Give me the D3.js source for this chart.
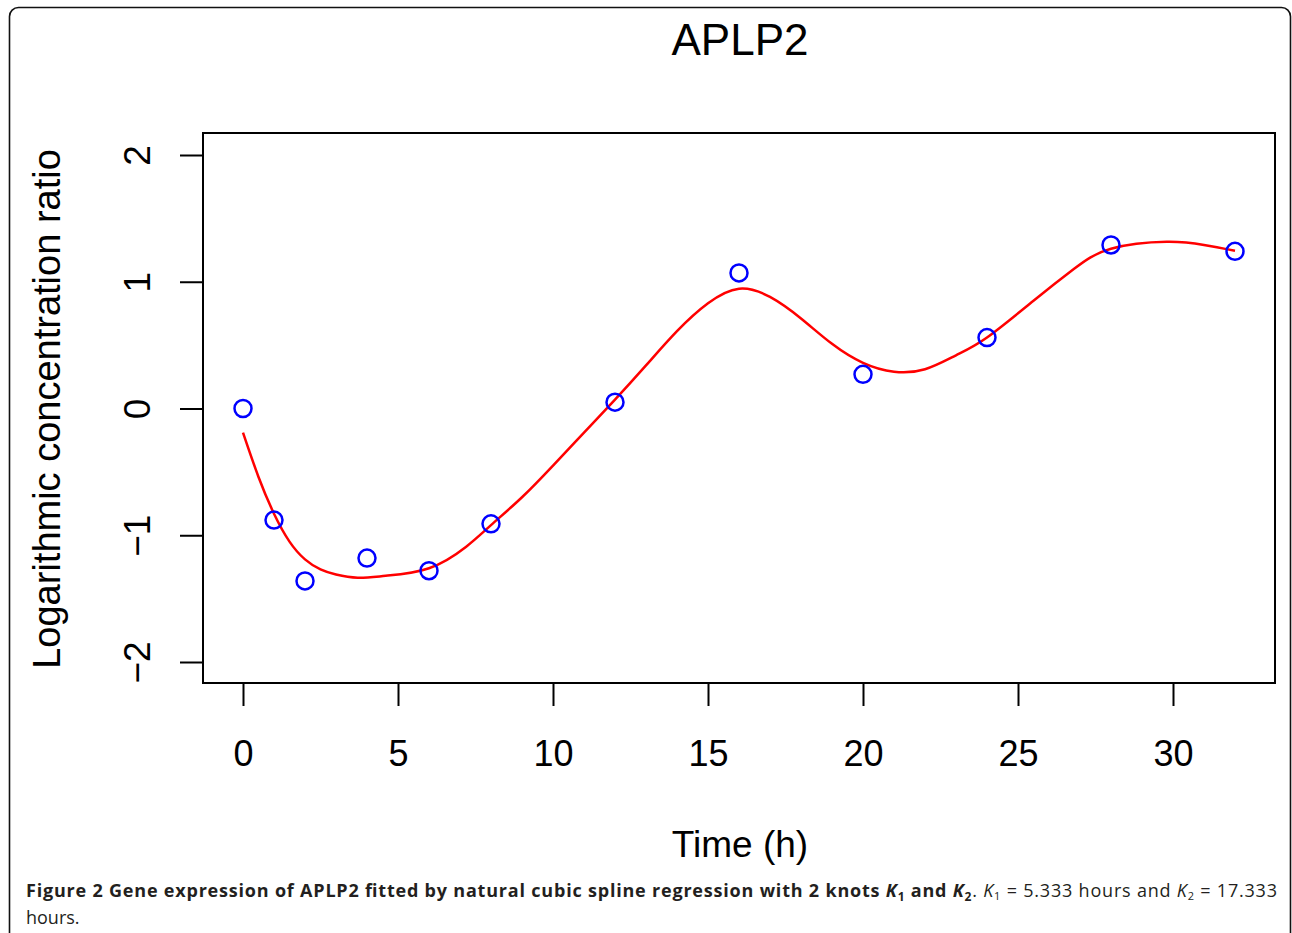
<!DOCTYPE html>
<html>
<head>
<meta charset="utf-8">
<script src="https://cdn.jsdelivr.net/npm/d3@7"></script>
<style>
  body { margin: 0; background: #fff; }
  svg { display: block; }
</style>
</head>
<body>
<div id="chart"></div>
<script>
const width = 1292,
  height = 933;

// observed expression (time in hours, log concentration ratio)
const obsTime = [0, 1, 2, 4, 6, 8, 12, 16, 20, 24, 28, 32];
const obsValue = [0, -0.88, -1.36, -1.18, -1.28, -0.91, 0.05, 1.07, 0.27, 0.56, 1.29, 1.24];

// fitted natural cubic spline
const fitTime = [0, 0.5, 1, 1.5, 2, 2.5, 3, 3.7, 4.6, 6, 7.2, 8, 9, 10, 11, 12, 13, 14, 15, 16, 17, 18, 19, 20, 21, 22, 23, 24, 25.5, 26.8, 28, 29.8, 31, 32];
const fitValue = [-0.19, -0.54, -0.83, -1.05, -1.19, -1.27, -1.31, -1.335, -1.32, -1.26, -1.09, -0.92, -0.70, -0.45, -0.19, 0.07, 0.34, 0.61, 0.83, 0.945, 0.88, 0.71, 0.51, 0.36, 0.29, 0.31, 0.42, 0.56, 0.85, 1.10, 1.26, 1.315, 1.29, 1.245];

const xTicks = [0, 5, 10, 15, 20, 25, 30];
const yTicks = [-2, -1, 0, 1, 2];

const box = { left: 203, right: 1275, top: 133, bottom: 683 };

const svg = d3.select("#chart")
  .append("svg")
  .attr("width", width)
  .attr("height", height)
  .attr("viewBox", [0, 0, width, height]);

// figure frame with rounded corners
svg.append("rect")
  .attr("x", 9.5).attr("y", 7.5)
  .attr("width", 1281).attr("height", 960)
  .attr("rx", 9)
  .attr("fill", "none")
  .attr("stroke", "#111")
  .attr("stroke-width", 1.6);

const x = d3.scaleLinear().domain([0, 30]).range([243, 1173]);
const y = d3.scaleLinear().domain([-2, 2]).range([662, 155]);

const font = "'Liberation Sans', Arial, Helvetica, sans-serif";

// plot box
svg.append("rect")
  .attr("x", box.left).attr("y", box.top)
  .attr("width", box.right - box.left).attr("height", box.bottom - box.top)
  .attr("fill", "none")
  .attr("stroke", "#000")
  .attr("stroke-width", 2);

// x axis (R style, outside ticks)
const xAxis = svg.append("g")
  .attr("transform", `translate(0,${box.bottom})`)
  .call(d3.axisBottom(x).tickValues(xTicks).tickSize(23).tickSizeOuter(0));
xAxis.select(".domain").remove();
xAxis.selectAll(".tick line").attr("stroke", "#000").attr("stroke-width", 2);
xAxis.selectAll(".tick text")
  .attr("font-family", font)
  .attr("font-size", 36)
  .attr("fill", "#000")
  .attr("dy", null)
  .attr("y", 83);

// y axis, labels rotated like R's las = 0
const yAxis = svg.append("g")
  .attr("transform", `translate(${box.left},0)`)
  .call(d3.axisLeft(y).tickValues(yTicks).tickSize(23).tickFormat(d => d < 0 ? "\u2212" + Math.abs(d) : d).tickSizeOuter(0));
yAxis.select(".domain").remove();
yAxis.selectAll(".tick line").attr("stroke", "#000").attr("stroke-width", 2);
yAxis.selectAll(".tick text")
  .attr("font-family", font)
  .attr("font-size", 37)
  .attr("fill", "#000")
  .attr("x", null).attr("dy", null)
  .attr("text-anchor", "middle")
  .attr("transform", "translate(-53,0) rotate(-90)");

// fitted curve
const line = d3.line()
  .x((d, i) => x(fitTime[i]))
  .y(d => y(d))
  .curve(d3.curveNatural);

svg.append("path")
  .attr("d", line(fitValue))
  .attr("fill", "none")
  .attr("stroke", "#ff0000")
  .attr("stroke-width", 2.5);

// observed points
svg.append("g")
  .selectAll("circle")
  .data(obsValue)
  .join("circle")
  .attr("cx", (d, i) => x(obsTime[i]))
  .attr("cy", d => y(d))
  .attr("r", 8.5)
  .attr("fill", "none")
  .attr("stroke", "#0000ff")
  .attr("stroke-width", 2.5);

// titles
svg.append("text")
  .attr("x", 740).attr("y", 55)
  .attr("text-anchor", "middle")
  .attr("font-family", font)
  .attr("font-size", 44)
  .text("APLP2");

svg.append("text")
  .attr("x", 740).attr("y", 857)
  .attr("text-anchor", "middle")
  .attr("font-family", font)
  .attr("font-size", 37)
  .text("Time (h)");

svg.append("text")
  .attr("transform", `translate(60,409) rotate(-90)`)
  .attr("text-anchor", "middle")
  .attr("font-family", font)
  .attr("font-size", 38)
  .text("Logarithmic concentration ratio");

// caption
const capFont = "'Open Sans', 'Noto Sans', sans-serif";
const cap = svg.append("text")
  .attr("x", 26).attr("y", 897)
  .attr("font-family", capFont)
  .attr("font-size", 18)
  .attr("fill", "#231f20")
  .attr("textLength", 1251)
  .attr("lengthAdjust", "spacing");

cap.append("tspan").attr("font-weight", "bold").text("Figure 2 Gene expression of APLP2 fitted by natural cubic spline regression with 2 knots ");
cap.append("tspan").attr("font-weight", "bold").attr("font-style", "italic").text("K");
cap.append("tspan").attr("font-weight", "bold").attr("font-size", 12).attr("dy", 4).text("1");
cap.append("tspan").attr("font-weight", "bold").attr("dy", -4).text(" and ");
cap.append("tspan").attr("font-weight", "bold").attr("font-style", "italic").text("K");
cap.append("tspan").attr("font-weight", "bold").attr("font-size", 12).attr("dy", 4).text("2");
cap.append("tspan").attr("dy", -4).text(". ");
cap.append("tspan").attr("font-style", "italic").text("K");
cap.append("tspan").attr("font-size", 11).attr("dy", 3).text("1");
cap.append("tspan").attr("dy", -3).text(" = 5.333 hours and ");
cap.append("tspan").attr("font-style", "italic").text("K");
cap.append("tspan").attr("font-size", 11).attr("dy", 3).text("2");
cap.append("tspan").attr("dy", -3).text(" = 17.333");

svg.append("text")
  .attr("x", 26).attr("y", 924)
  .attr("font-family", capFont)
  .attr("font-size", 18)
  .attr("fill", "#231f20")
  .text("hours.");
</script>
</body>
</html>
